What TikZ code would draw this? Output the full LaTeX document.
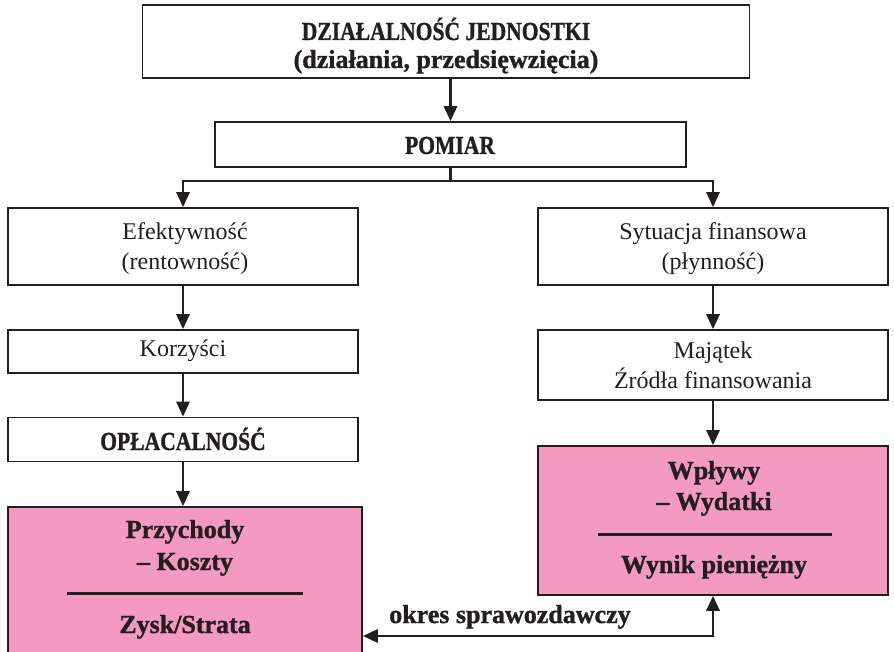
\documentclass[tikz,border=0pt]{standalone}
\usepackage{fontspec}
\setmainfont{Liberation Serif}[BoldFeatures={FakeBold=1.2}]
\usetikzlibrary{arrows.meta,calc}
\newcommand\cndtxt[1]{\scalebox{0.83}[1]{#1}}
\definecolor{pinkc}{RGB}{244,154,193}
\definecolor{inkc}{RGB}{35,31,32}
\tikzset{
  box/.style={draw=inkc, line width=1.6pt, fill=white, inner sep=0pt},
  pinkbox/.style={box, fill=pinkc},
  reg/.style={anchor=base, inner sep=0pt, text=inkc, font=\fontsize{24}{29}\selectfont},
  bld/.style={anchor=base, inner sep=0pt, text=inkc, font=\fontsize{26}{30}\selectfont\bfseries},
  caps/.style={anchor=base, inner sep=0pt, text=inkc, font=\fontsize{26}{30}\selectfont\bfseries},
  arr/.style={draw=inkc, line width=2.8pt, -{Triangle[width=13pt,length=15pt]}},
  arrboth/.style={draw=inkc, line width=2.8pt, {Triangle[width=13pt,length=15pt]}-{Triangle[width=13pt,length=15pt]}},
  plainline/.style={draw=inkc, line width=2.8pt},
  sepline/.style={draw=inkc, line width=3pt}
}
\begin{document}
\begin{tikzpicture}[x=1pt,y=-1pt]
\clip (0,0) rectangle (894,652);
\fill[white] (0,0) rectangle (894,652);
% boxes
\node[box, minimum width=607pt, minimum height=73pt] (top) at (446,41.5) {};
\node[box, minimum width=471pt, minimum height=45pt] (pom) at (450.5,144.5) {};
\node[box, minimum width=350pt, minimum height=77pt] (eff) at (183,246.5) {};
\node[box, minimum width=350pt, minimum height=43pt] (korz) at (183,351.5) {};
\node[box, minimum width=350pt, minimum height=44pt] (opl) at (183,439.5) {};
\node[pinkbox, minimum width=354pt, minimum height=160pt] (lp) at (185,587) {};
\node[box, minimum width=350pt, minimum height=77pt] (syt) at (713,246.5) {};
\node[box, minimum width=350pt, minimum height=70pt] (maj) at (713,365) {};
\node[pinkbox, minimum width=350pt, minimum height=149pt] (rp) at (713,520.5) {};
% texts
\node[caps] (t1) at (446,40) {\cndtxt{DZIAŁALNOŚĆ JEDNOSTKI}};
\node[bld]  (t2) at (446,68) {(działania, przedsięwzięcia)};
\node[caps] (t3) at (450,154) {\cndtxt{POMIAR}};
\node[reg]  (t4) at (185,240) {Efektywność};
\node[reg]  (t5) at (185,270) {(rentowność)};
\node[reg]  (t6) at (183,356) {Korzyści};
\node[caps] (t7) at (183,450) {\cndtxt{OPŁACALNOŚĆ}};
\node[reg]  (t8) at (713,240) {Sytuacja finansowa};
\node[reg]  (t9) at (713,270) {(płynność)};
\node[reg]  (t10) at (713,358) {Majątek};
\node[reg]  (t11) at (713,388) {Źródła finansowania};
\node[bld]  (t12) at (185,538) {Przychody};
\node[bld]  (t13) at (185,570) {– Koszty};
\node[bld]  (t14) at (185,633) {Zysk/Strata};
\node[bld]  (t15) at (714,479) {Wpływy};
\node[bld]  (t16) at (714,510) {– Wydatki};
\node[bld]  (t17) at (714,573) {Wynik pieniężny};
\node[bld]  (okres) at (510,623) {okres sprawozdawczy};
% separator lines in pink boxes
\draw[sepline] (67,593) -- (303,593);
\draw[sepline] (598,534) -- (832,534);
% connectors
\draw[arr] (pom.north |- top.south) -- (pom.north);
\coordinate (split) at (450.5,181);
\draw[plainline] (pom.south) -- (split);
\draw[arr] (split) -| (eff.north);
\draw[arr] (split) -| (syt.north);
\draw[arr] (eff.south) -- (korz.north);
\draw[arr] (korz.south) -- (opl.north);
\draw[arr] (opl.south) -- (opl.south |- lp.north);
\draw[arr] (syt.south) -- (maj.north);
\draw[arr] (maj.south) -- (rp.north);
\coordinate (okr) at (540,636);
\draw[arrboth] (lp.east |- okr) -| (rp.south);
\end{tikzpicture}
\end{document}
